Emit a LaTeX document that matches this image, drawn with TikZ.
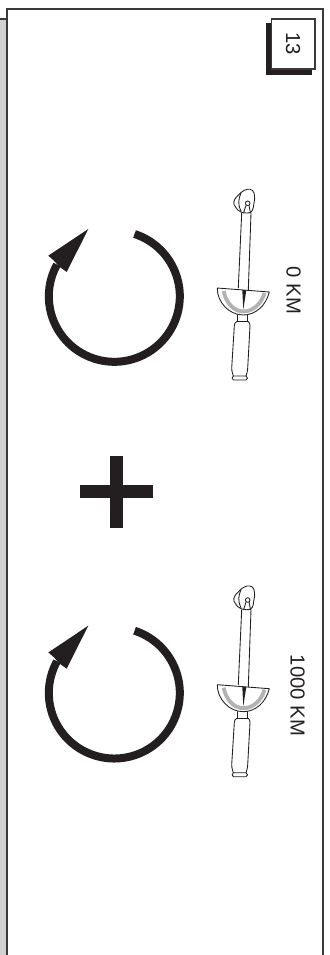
\documentclass[tikz,border=0pt]{standalone}
\usepackage{fontspec}
\setmainfont{Liberation Sans}
\definecolor{inkblack}{HTML}{231F20}
\definecolor{framedark}{HTML}{3A3A3A}
\definecolor{sidegray}{HTML}{D0D2D0}
\definecolor{dialgray}{HTML}{B2B3B3}
\tikzset{
  frameline/.style={framedark, line width=1.5pt},
  toolline/.style={inkblack, line width=0.65pt, line join=round, line cap=round},
  labeltext/.style={inkblack, rotate=-90, inner sep=0pt, font=\fontsize{15.2}{15.2}\selectfont},
  wrench/.pic={
    % head
    \draw[toolline] plot[smooth cycle, tension=0.7] coordinates {(241,212) (235.5,207) (233.8,202) (236.5,197) (241,192.5) (247,189.3) (252.5,190.5) (254.5,196) (254,203) (251,212)};
    \draw[toolline] (241,193) .. controls (238.5,199) and (237.5,204) .. (241,211);
    \draw[toolline] (247.7,203.3) circle (2.3);
    \draw[toolline] (246,205.5) -- (243.5,213) (249,205.5) -- (250.5,213);
    % shaft
    \draw[toolline] (241.7,213) -- (238.3,288) (251,213) -- (248.3,290);
    % dial
    \draw[dialgray, line width=2.9pt] (223.6,291) .. controls (226,303) and (234,311.5) .. (243.3,311.5) .. controls (252,311.5) and (261,305) .. (264.5,293);
    \draw[toolline, fill=none] (217.3,288) -- (269.3,292) .. controls (266,306) and (255,315) .. (243.3,315) .. controls (229,315) and (217,302) .. (217.3,288);
    \fill[inkblack] (242.3,290) -- (246.3,290.3) -- (243.3,309.5) -- cycle;
    % neck
    \draw[toolline] (237.3,315) -- (237.3,321.7) (247.7,315) -- (247.7,321.7) (236.7,321.7) -- (248.3,321.7);
    % handle
    \draw[toolline] (236.7,321.7) .. controls (235,322.5) and (234.3,324) .. (234.3,326) -- (231.7,368) .. controls (231.7,372) and (233,374) .. (233.3,376);
    \draw[toolline] (248.3,321.7) .. controls (249.5,322.5) and (250,324) .. (250,326) -- (247.7,368) .. controls (247.7,372) and (246.3,374) .. (246,376);
    \draw[toolline] (233.3,376) -- (246,376) .. controls (248,377) and (248,379.5) .. (246,380) -- (233.5,380) .. controls (231.7,379.5) and (231.7,377) .. (233.3,376);
  },
  turnarrow/.pic={
    \draw[inkblack, line width=6pt] ([shift={(-72:65.5)}]114.3,296.3) arc[start angle=-72, end angle=209, radius=65.5];
    \fill[inkblack] (88.3,229) -- (66.7,272) -- (59.3,266.7) -- (54,260.7) -- (48.3,255.7) -- cycle;
  }
}
\begin{document}
\begin{tikzpicture}[x=0.75pt, y=-0.75pt]
  \useasboundingbox (0,0) rectangle (329,955);

  % page edge
  \fill[sidegray] (0,19) rectangle (6,955);
  \draw[sidegray, line width=0.5pt] (6,8.2) -- (323.5,8.2);
  \draw[frameline] (0,19.2) -- (6.8,19.2);
  \draw[frameline] (6.8,955) -- (6.8,9.4) -- (323.3,9.4) -- (323.3,955);

  % number tab
  \fill[inkblack] (266,22.7) rectangle (311.7,75);
  \draw[framedark, fill=white, line width=0.9pt] (271.7,19) rectangle (315,69);
  \node[labeltext] (tabnumber) at (293,44) {13};

  % first tightening
  \pic at (0,0) {turnarrow};
  \pic at (0,0) {wrench};
  \node[labeltext] (firstlabel) at (293.5,290.3) {0 KM};

  % plus sign
  \fill[inkblack] (110.3,455.7) rectangle (122.7,528.3);
  \fill[inkblack] (80,485.3) rectangle (153,498.3);

  % second tightening
  \pic at (0,396.7) {turnarrow};
  \pic at (0,396.7) {wrench};
  \node[labeltext] (secondlabel) at (297.5,695.5) {1000 KM};
\end{tikzpicture}
\end{document}
